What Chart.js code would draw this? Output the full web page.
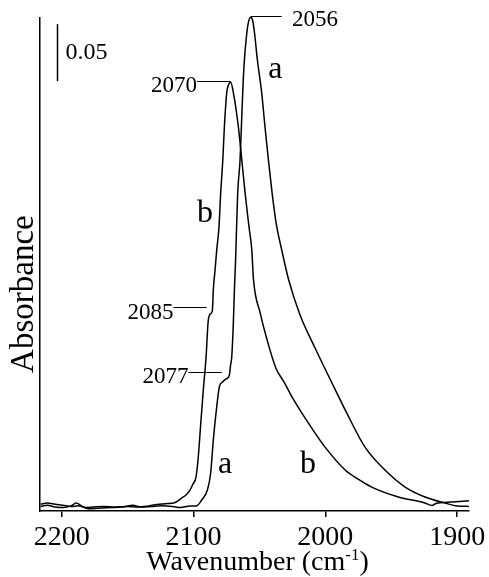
<!DOCTYPE html>
<html>
<head>
<meta charset="utf-8">
<script src="https://cdn.jsdelivr.net/npm/chart.js@4.4.1/dist/chart.umd.min.js"></script>
<style>
  body { margin: 0; background: #fff; }
</style>
</head>
<body>
<canvas id="spectrum" width="489" height="577"></canvas>
<script>
// spectrum a (wavenumber, absorbance)
const waveA = [2216, 2211, 2205, 2199, 2193, 2189, 2185, 2180, 2172, 2163, 2154, 2146, 2140, 2132, 2124, 2116, 2110,
  2102.7, 2098.1, 2093.8, 2089.5, 2087.0, 2085.0, 2082.4, 2080.4, 2077.8, 2075.3, 2072.8, 2071.9, 2071.0, 2069.8,
  2069.0, 2068.1, 2066.5, 2064.7, 2063.2, 2061.8, 2059.6, 2058.3, 2056.6, 2055.1, 2053.7, 2051.6, 2048.3, 2045.8,
  2043.2, 2040.4, 2037.4, 2033.1, 2027.9, 2019.2, 2007.8, 1995.7, 1983.8, 1969.9, 1952.4, 1939.5, 1924.4, 1909.2,
  1900, 1891];
const absA = [0.004, 0.005, 0.0035, 0.003, 0.0045, 0.007, 0.0045, 0.002, 0.0025, 0.003, 0.0035, 0.005, 0.0035, 0.004, 0.0045, 0.004, 0.003,
  0.0044, 0.0044, 0.0096, 0.0184, 0.0333, 0.0623, 0.0915, 0.109, 0.1134, 0.1158, 0.1193, 0.128, 0.1353, 0.1649,
  0.1938, 0.220, 0.279, 0.308, 0.352, 0.389, 0.419, 0.429, 0.433, 0.430, 0.419, 0.396, 0.367, 0.337,
  0.308, 0.279, 0.253, 0.229, 0.203, 0.172, 0.143, 0.114, 0.086, 0.056, 0.0333, 0.021, 0.0123, 0.007,
  0.0044, 0.004];

// spectrum b
const waveB = [2216, 2211, 2205, 2199, 2193, 2187, 2182, 2176, 2168, 2160, 2150, 2142, 2134, 2126, 2120, 2115,
  2109, 2105.7, 2102.7, 2100.4, 2098.1, 2096.4, 2094.5, 2092.6, 2090.5, 2088.8, 2087.1, 2085.7, 2085.0, 2083.7,
  2082.4, 2080.7, 2079.4, 2077.8, 2076.6, 2074.8, 2073.4, 2071.8, 2069.8, 2066.0, 2063.4, 2060.9, 2057.9, 2055.8,
  2054.6, 2049.5, 2043.2, 2037.4, 2031.3, 2025.3, 2017.9, 2009.3, 2000.2, 1985.0, 1975.1, 1964.8, 1944.6, 1924.4,
  1919.0, 1916.0, 1904.2, 1891];
const absB = [0.006, 0.007, 0.006, 0.005, 0.004, 0.0045, 0.003, 0.0035, 0.004, 0.0035, 0.004, 0.0035, 0.0045, 0.006, 0.0065, 0.007,
  0.0114, 0.014, 0.0184, 0.0237, 0.030, 0.0476, 0.0772, 0.106, 0.135, 0.1675, 0.173, 0.176, 0.194, 0.211,
  0.229, 0.249, 0.279, 0.308, 0.337, 0.367, 0.374, 0.376, 0.367, 0.337, 0.308, 0.279, 0.249, 0.229,
  0.204, 0.174, 0.146, 0.125, 0.113, 0.100, 0.086, 0.071, 0.056, 0.036, 0.028, 0.021, 0.0123, 0.007,
  0.0048, 0.0066, 0.0079, 0.009];

const xTicks = [2200, 2100, 2000, 1900];

// peak callouts: label, line start/end and text anchor in data units
const callouts = [
  {text: '2056', line: [2056.6, 2033.1, 0.434], at: [2025.3, 0.4306], align: 'left'},
  {text: '2070', line: [2097.3, 2071.8, 0.377], at: [2097.3, 0.3727], align: 'right'},
  {text: '2085', line: [2115.3, 2090.0, 0.1786], at: [2115.3, 0.174], align: 'right'},
  {text: '2077', line: [2103.9, 2078.6, 0.122], at: [2103.9, 0.118], align: 'right'}
];
const curveLabels = [
  {text: 'a', at: [2043.4, 0.3797]},
  {text: 'b', at: [2097.3, 0.2535]},
  {text: 'a', at: [2081.4, 0.0333]},
  {text: 'b', at: [2019.2, 0.0333]}
];
const scaleBar = {size: 0.05, top: 0.427, wave: 2203.6, text: '0.05'};

const serif = 'Liberation Serif';

const overlay = {
  id: 'overlay',
  afterDraw(chart) {
    const {ctx, chartArea, scales: {x, y}} = chart;
    ctx.save();
    ctx.fillStyle = '#000';
    ctx.strokeStyle = '#000';

    // scale bar
    const bx = Math.round(x.getPixelForValue(scaleBar.wave)) + 0.5;
    const top = y.getPixelForValue(scaleBar.top);
    const bot = y.getPixelForValue(scaleBar.top - scaleBar.size);
    ctx.lineWidth = 1.5;
    ctx.beginPath();
    ctx.moveTo(bx, top);
    ctx.lineTo(bx, bot);
    ctx.stroke();
    ctx.font = '24px ' + serif;
    ctx.textAlign = 'left';
    ctx.textBaseline = 'middle';
    ctx.fillText(scaleBar.text, bx + 8, (top + bot) / 2);

    // peak callouts
    ctx.lineWidth = 1;
    ctx.font = '23px ' + serif;
    callouts.forEach(c => {
      const ly = Math.round(y.getPixelForValue(c.line[2])) + 0.5;
      ctx.beginPath();
      ctx.moveTo(x.getPixelForValue(c.line[0]), ly);
      ctx.lineTo(x.getPixelForValue(c.line[1]), ly);
      ctx.stroke();
      ctx.textAlign = c.align;
      ctx.textBaseline = 'middle';
      ctx.fillText(c.text, x.getPixelForValue(c.at[0]), y.getPixelForValue(c.at[1]));
    });

    // curve letters
    ctx.font = '32px ' + serif;
    ctx.textAlign = 'left';
    ctx.textBaseline = 'alphabetic';
    curveLabels.forEach(l => {
      ctx.fillText(l.text, x.getPixelForValue(l.at[0]), y.getPixelForValue(l.at[1]));
    });

    // y title
    ctx.save();
    ctx.translate(chartArea.left - 7, chartArea.top + (chartArea.bottom - chartArea.top) * 0.56);
    ctx.rotate(-Math.PI / 2);
    ctx.font = '33px ' + serif;
    ctx.textAlign = 'center';
    ctx.fillText('Absorbance', 0, 0);
    ctx.restore();

    // x title with superscript
    const main = 'Wavenumber (cm', sup = '-1', close = ')';
    ctx.font = '28px ' + serif;
    const w1 = ctx.measureText(main).width;
    const w3 = ctx.measureText(close).width;
    ctx.font = '17px ' + serif;
    const w2 = ctx.measureText(sup).width;
    let tx = (chartArea.left + chartArea.right) / 2 + 3 - (w1 + w2 + w3) / 2;
    const base = chart.height - 7;
    ctx.textAlign = 'left';
    ctx.font = '28px ' + serif;
    ctx.fillText(main, tx, base);
    tx += w1;
    ctx.font = '17px ' + serif;
    ctx.fillText(sup, tx, base - 10);
    tx += w2;
    ctx.font = '28px ' + serif;
    ctx.fillText(close, tx, base);
    ctx.restore();
  }
};

const toPoints = (wave, abs) => wave.map((w, i) => ({x: w, y: abs[i]}));

new Chart(document.getElementById('spectrum'), {
  type: 'line',
  data: {
    datasets: [
      {label: 'a', data: toPoints(waveA, absA)},
      {label: 'b', data: toPoints(waveB, absB)}
    ]
  },
  options: {
    responsive: false,
    animation: false,
    clip: false,
    layout: {padding: {left: 40, right: 20, top: 18, bottom: 0}},
    elements: {
      point: {radius: 0},
      line: {borderColor: '#000', borderWidth: 1.5, cubicInterpolationMode: 'monotone', fill: false}
    },
    plugins: {legend: {display: false}, tooltip: {enabled: false}},
    scales: {
      x: {
        type: 'linear',
        reverse: true,
        min: 1891,
        max: 2216.5,
        afterBuildTicks: s => { s.ticks = xTicks.map(v => ({value: v})); },
        afterFit: s => { s.height = 66; s.paddingLeft = 0; s.paddingRight = 0; },
        grid: {drawOnChartArea: false, tickLength: 6, color: '#000', lineWidth: 1.5},
        border: {color: '#000', width: 1.5},
        ticks: {
          color: '#000',
          padding: 4,
          maxRotation: 0,
          autoSkip: false,
          font: {family: serif, size: 28},
          callback: v => String(v)
        }
      },
      y: {
        min: 0,
        max: 0.4324,
        afterFit: s => { s.width = 0; },
        grid: {display: false},
        border: {color: '#000', width: 1.5},
        ticks: {display: false}
      }
    }
  },
  plugins: [overlay]
});
</script>
</body>
</html>
